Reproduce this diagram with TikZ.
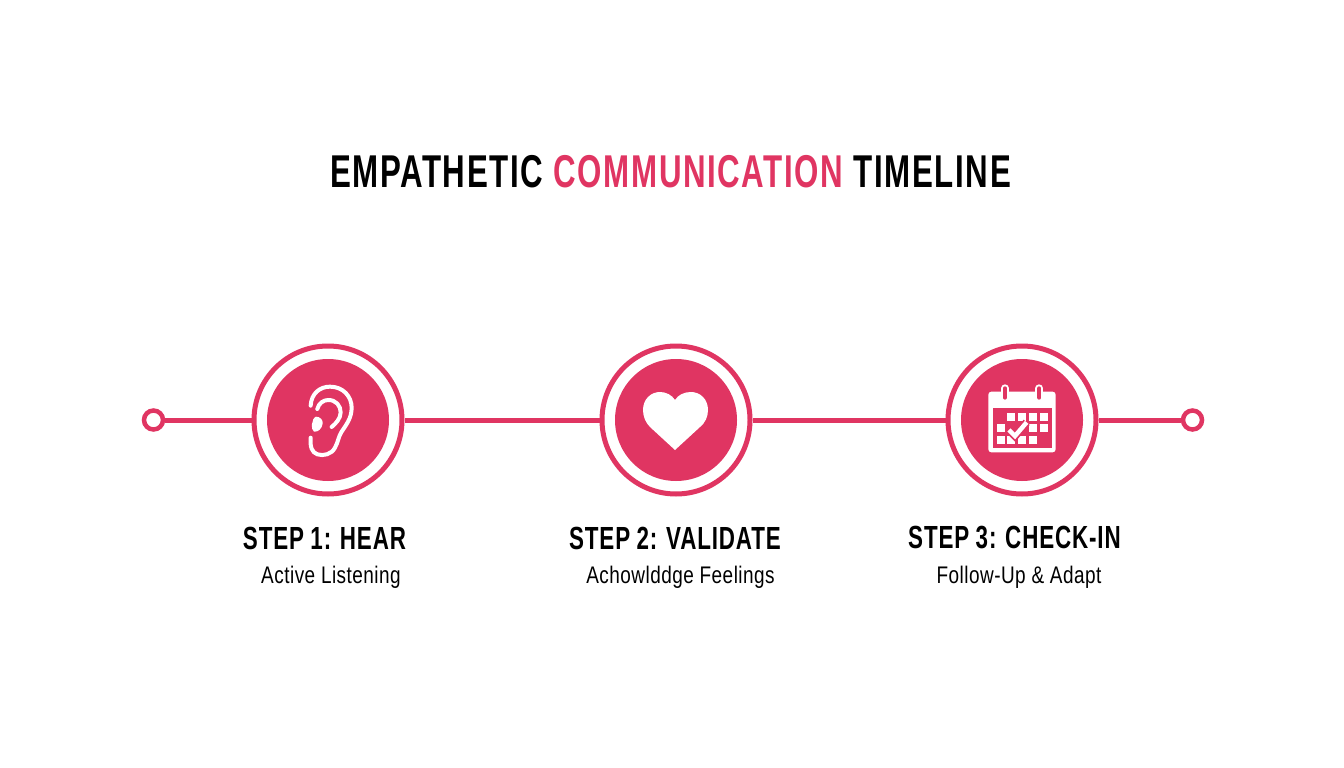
\documentclass[tikz,border=0pt]{standalone}
\usepackage{fontspec}
\setmainfont{Liberation Sans}
\newfontfamily\titlefont[FakeStretch=0.68,LetterSpace=3.5]{Liberation Sans}
\newfontfamily\headfont[FakeStretch=0.70,LetterSpace=2.7,WordSpace=0.9]{Liberation Sans}
\newfontfamily\subfont[FakeStretch=0.79,LetterSpace=2]{Liberation Sans}
\usetikzlibrary{positioning}
\definecolor{rosepink}{HTML}{E03562}
\begin{document}
\begin{tikzpicture}[x=1pt,y=-1pt]
		\tikzset{ring/.style = {shape=circle, draw=rosepink, line width=5pt, fill=white, minimum size=148pt, inner sep=0pt}}
		\tikzset{dot/.style = {shape=circle, draw=rosepink, line width=4.5pt, fill=white, minimum size=19pt, inner sep=0pt}}
		\tikzset{core/.style = {shape=circle, fill=rosepink, minimum size=122pt, inner sep=0pt}}
		\tikzset{timeline/.style = {draw=rosepink, line width=5pt}}
		\tikzset{steptitle/.style = {font=\headfont\bfseries\fontsize{32}{36}\selectfont, inner sep=0pt}}
		\tikzset{stepnote/.style = {font=\subfont\fontsize{24}{28}\selectfont, inner sep=0pt}}
		\tikzset{glyph/.style = {draw=white, line width=4pt, line cap=round, line join=round}}
		\useasboundingbox (0,0) rectangle (1344,768);
		\fill[white] (0,0) rectangle (1344,768);

		\node[font=\titlefont\bfseries\fontsize{46}{50}\selectfont, inner sep=0pt] (TITLE) at (670.5,172)
		{EMPATHETIC \textcolor{rosepink}{COMMUNICATION} TIMELINE};

		\node[dot] (START) at (153.5,420) {};
		\node[ring] (HEAR) at (328,420) {};
		\node[ring] (VALIDATE) at (676,420) {};
		\node[ring] (CHECKIN) at (1022,420) {};
		\node[dot] (END) at (1192.5,420) {};

		\draw[timeline] (START) -- (HEAR);
		\draw[timeline] (HEAR) -- (VALIDATE);
		\draw[timeline] (VALIDATE) -- (CHECKIN);
		\draw[timeline] (CHECKIN) -- (END);

		\node[core] (HEARCORE) at (HEAR.center) {};
		\node[core] (VALIDATECORE) at (VALIDATE.center) {};
		\node[core] (CHECKINCORE) at (CHECKIN.center) {};

		% ear
		\begin{scope}[shift={(240,335)},x=0.3333pt,y=-0.3333pt]
			\draw[glyph] (212,212) .. controls (214,175) and (240,155) .. (270,155)
				.. controls (310,155) and (335,185) .. (335,218)
				.. controls (335,250) and (318,270) .. (305,290)
				.. controls (295,305) and (295,320) .. (285,338)
				.. controls (275,358) and (250,364) .. (232,358)
				.. controls (215,352) and (210,335) .. (212,308);
			\draw[glyph] (232,222) .. controls (236,205) and (250,195) .. (265,195)
				.. controls (288,195) and (302,212) .. (302,232)
				.. controls (302,250) and (288,265) .. (275,276);
			\fill[white] (228,245) .. controls (240,245) and (250,255) .. (248,266)
				.. controls (246,280) and (235,292) .. (222,290)
				.. controls (212,285) and (214,250) .. (228,245) -- cycle;
		\end{scope}

		% heart
		\fill[white] (675,450) -- (650,427)
			.. controls (646,423) and (643,417) .. (643,410)
			.. controls (643,399) and (651,392) .. (660,392)
			.. controls (666,392) and (672,395) .. (675,400)
			.. controls (678,395) and (684,392) .. (691,392)
			.. controls (700,392) and (708,399) .. (708,410)
			.. controls (708,417) and (705,423) .. (700,427) -- cycle;

		% calendar
		\begin{scope}[shift={(935,335)},x=0.3333pt,y=-0.3333pt]
			\fill[white, rounded corners=3pt] (160,170) rectangle (362,352);
			\fill[rosepink] (173,218) rectangle (350,340);
			\foreach \tabx in {210,313}
				\draw[white, line width=8pt, line cap=round] (\tabx,160) -- (\tabx,188);
			\foreach \tabx in {210,313}
				\draw[rosepink, line width=4pt, line cap=round] (\tabx,160) -- (\tabx,188);
			\foreach \cellx/\celly in {228/245,261/245,293/245,326/245,197/279,293/279,326/279,197/314,228/314,261/314,293/314}
				\fill[white] (\cellx-12,\celly-12) rectangle (\cellx+12,\celly+12);
			\draw[rosepink, line width=8pt] (222,285) -- (240,303) -- (275,262);
			\draw[white, line width=4.5pt] (222,285) -- (240,303) -- (275,262);
		\end{scope}

		\node[steptitle] (HEARTITLE) at (324.5,538) {STEP 1: HEAR};
		\node[stepnote] (HEARNOTE) at (331,577) {Active Listening};
		\node[steptitle] (VALIDATETITLE) at (675,538) {STEP 2: VALIDATE};
		\node[stepnote] (VALIDATENOTE) at (680.5,577) {Achowlddge Feelings};
		\node[steptitle] (CHECKINTITLE) at (1014.5,538) {STEP 3: CHECK-IN};
		\node[stepnote] (CHECKINNOTE) at (1019,577) {Follow-Up \& Adapt};
\end{tikzpicture}
\end{document}
